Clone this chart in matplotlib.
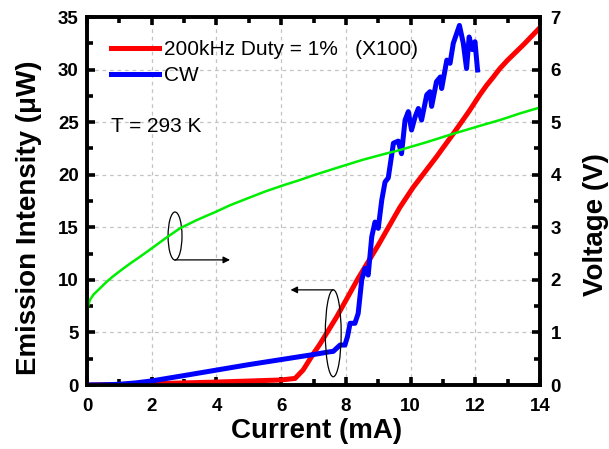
import matplotlib
matplotlib.use("Agg")
import matplotlib.pyplot as plt
from matplotlib.patches import Ellipse
from matplotlib.ticker import MultipleLocator

plt.rcParams['font.family'] = ['Liberation Sans', 'DejaVu Sans']

# Pulsed drive, 200 kHz, 1 % duty (emission scaled x100)
pulsed_current = [0, 1, 2, 3, 4, 5, 6, 6.43, 6.68, 7.0, 7.2, 7.72, 8.38, 9.0,
                  9.67, 10.08, 10.8, 11.32, 11.8, 12.14, 12.35, 12.56, 12.76,
                  13.0, 13.5, 14.0]
pulsed_power = [0, 0.05, 0.12, 0.2, 0.28, 0.38, 0.48, 0.63, 1.43, 3.0, 3.9,
                6.5, 10.15, 13.3, 16.9, 18.8, 21.7, 23.9, 26.0, 27.6, 28.5,
                29.3, 30.1, 30.9, 32.4, 34.0]

# Continuous-wave drive
cw_current = [0, 0.5, 1, 1.5, 2, 3, 4, 5, 6, 7, 7.5, 7.61, 7.75, 7.82, 7.97,
              8.05, 8.13, 8.28, 8.38, 8.49, 8.59, 8.69, 8.80, 8.90, 9.0, 9.11,
              9.21, 9.31, 9.47, 9.62, 9.72, 9.83, 9.93, 10.03, 10.14, 10.24,
              10.34, 10.5, 10.6, 10.65, 10.8, 10.92, 10.96, 11.12, 11.22,
              11.32, 11.51, 11.63, 11.73, 11.81, 11.91, 11.99, 12.07]
cw_power = [0, 0.02, 0.07, 0.2, 0.39, 0.9, 1.42, 1.94, 2.42, 2.9, 3.16, 3.2,
            3.6, 3.8, 3.8, 4.6, 5.87, 5.87, 6.8, 9.99, 11.1, 10.46, 14.1, 15.5,
            14.9, 17.6, 19.3, 19.7, 23.0, 23.2, 22.0, 25.2, 26.0, 24.25, 25.5,
            26.3, 25.2, 27.6, 27.9, 26.5, 28.85, 29.3, 28.2, 30.9, 30.6, 32.5,
            34.2, 32.5, 30.1, 33.1, 31.9, 32.65, 29.96]

# Forward voltage
iv_current = [0, 0.09, 0.2, 0.4, 0.6, 0.81, 1.0, 1.33, 1.66, 2.0, 2.4, 2.87,
              3.4, 4.0, 4.42, 5.0, 5.5, 6.07, 6.58, 7.0, 7.82, 8.5, 9.1, 9.67,
              10.5, 11.27, 12.14, 12.76, 13.4, 14.0]
iv_voltage = [1.43, 1.62, 1.72, 1.84, 1.96, 2.07, 2.16, 2.31, 2.45, 2.6, 2.78,
              2.98, 3.14, 3.3, 3.42, 3.56, 3.68, 3.8, 3.9, 3.99, 4.15, 4.28,
              4.38, 4.47, 4.62, 4.77, 4.93, 5.04, 5.17, 5.28]

pulsed_label = "200kHz Duty = 1%   (X100)"
cw_label = "CW"
temp_text = "T = 293 K"

fig = plt.figure(figsize=(6.09, 4.49), dpi=100)
ax = fig.add_axes([0.1429, 0.1425, 0.7438, 0.8196])
ax2 = ax.twinx()

ax.plot(pulsed_current, pulsed_power, color='#ff0000', lw=3.6,
        solid_joinstyle='round', label=pulsed_label, zorder=3)
ax.plot(cw_current, cw_power, color='#0000ff', lw=3.6,
        solid_joinstyle='round', label=cw_label, zorder=4)
ax2.plot(iv_current, iv_voltage, color='#00ee00', lw=1.8)

ax.set_xlim(0, 14)
ax.set_ylim(0, 35)
ax2.set_ylim(0, 7)

ax.xaxis.set_major_locator(MultipleLocator(2))
ax.xaxis.set_minor_locator(MultipleLocator(1))
ax.yaxis.set_major_locator(MultipleLocator(5))
ax.yaxis.set_minor_locator(MultipleLocator(2.5))
ax2.yaxis.set_major_locator(MultipleLocator(1))
ax2.yaxis.set_minor_locator(MultipleLocator(0.5))

ax.grid(True, which='major', color='#c4c4c4', lw=0.9, ls=(0, (3, 3)))
ax.set_axisbelow(True)

for a in (ax, ax2):
    for s in a.spines.values():
        s.set_linewidth(2.6)

ax.tick_params(which='major', direction='in', length=6, width=2.6,
               top=True, right=False, labelsize=13.5, pad=6)
ax.tick_params(axis='x', which='major', pad=9)
ax.tick_params(which='minor', direction='in', length=4, width=2.6,
               top=True, right=False)
ax2.tick_params(which='major', direction='in', length=6, width=2.6,
                labelsize=13.5, pad=7.5)
ax2.tick_params(which='minor', direction='in', length=4, width=2.6)
for lab in ax.get_xticklabels() + ax.get_yticklabels() + ax2.get_yticklabels():
    lab.set_fontweight('bold')

ax.set_xlabel("Current (mA)", fontsize=20, fontweight='bold')
ax.set_ylabel("Emission Intensity (\u03bcW)", fontsize=20, fontweight='bold')
ax2.set_ylabel("Voltage (V)", fontsize=20, fontweight='bold')
ax.xaxis.set_label_coords(0.507, -0.09)
ax.yaxis.set_label_coords(-0.10, 0.455)
ax2.yaxis.set_label_coords(1.095, 0.437)

leg = ax.legend(loc='upper left', bbox_to_anchor=(0.043, 0.948),
                frameon=False, fontsize=15, handlelength=2.3,
                handletextpad=0.25, labelspacing=0.32, borderpad=0.2,
                borderaxespad=0)
for line in leg.get_lines():
    line.set_linewidth(3.6)

ax.text(0.052, 0.702, temp_text, transform=ax.transAxes, fontsize=15,
        va='center', ha='left')

# Curve markers with arrows pointing to their axes
ax.add_patch(Ellipse((2.72, 14.17), 0.43, 4.57, fill=False, ec='black',
                     lw=0.9, zorder=6))
ax.annotate("", xy=(4.42, 11.9), xytext=(2.72, 11.9),
            arrowprops=dict(arrowstyle='-|>', color='black', lw=0.9,
                            mutation_scale=10, shrinkA=0, shrinkB=0),
            zorder=6)
ax.add_patch(Ellipse((7.61, 4.92), 0.49, 8.27, fill=False, ec='black',
                     lw=0.9, zorder=6))
ax.annotate("", xy=(6.29, 9.05), xytext=(7.61, 9.05),
            arrowprops=dict(arrowstyle='-|>', color='black', lw=0.9,
                            mutation_scale=10, shrinkA=0, shrinkB=0),
            zorder=6)

fig.savefig("out.png", dpi=100)
